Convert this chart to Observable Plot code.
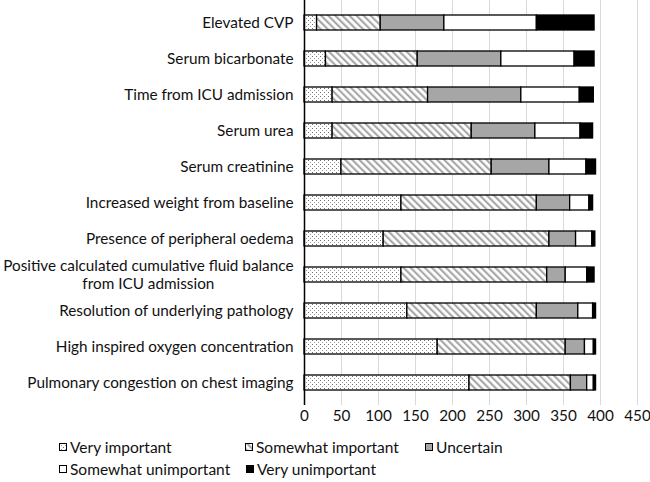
<!DOCTYPE html>
<html>
<head>
<meta charset="utf-8">
<script src="https://cdn.jsdelivr.net/npm/d3@7"></script>
<script src="https://cdn.jsdelivr.net/npm/@observablehq/plot@0.6"></script>
<style>
  html, body { margin: 0; padding: 0; background: #fff; }
  #wrap { width: 650px; font-family: Lato, sans-serif; color: #111; }
  #legend { position: relative; height: 50px; width: 650px; font-size: 15.5px; }
  .item { position: absolute; display: flex; align-items: center; white-space: nowrap; line-height: 18px; }
  .item svg { margin-right: 3px; }
</style>
</head>
<body>
<svg width="0" height="0" style="position:absolute">
  <defs>
    <pattern id="pDots" width="4" height="4" patternUnits="userSpaceOnUse">
      <rect width="4" height="4" fill="#fff"/>
      <rect x="0" y="0" width="1" height="1" fill="#6e6e6e"/>
      <rect x="2" y="2" width="1" height="1" fill="#9a9a9a"/>
    </pattern>
    <pattern id="pHatch" width="5" height="5" patternUnits="userSpaceOnUse" patternTransform="rotate(-45)">
      <rect width="5" height="5" fill="#fff"/>
      <rect x="0" y="0" width="2.2" height="5" fill="#a9a9a9"/>
    </pattern>
  </defs>
</svg>
<div id="wrap">
  <div id="chart"></div>
  <div id="legend"></div>
</div>
<script>
const categories = [
  "Elevated CVP",
  "Serum bicarbonate",
  "Time from ICU admission",
  "Serum urea",
  "Serum creatinine",
  "Increased weight from baseline",
  "Presence of peripheral oedema",
  "Positive calculated cumulative fluid balance from ICU admission",
  "Resolution of underlying pathology",
  "High inspired oxygen concentration",
  "Pulmonary congestion on chest imaging"
];
const levels = ["Very important", "Somewhat important", "Uncertain", "Somewhat unimportant", "Very unimportant"];
const veryImportant       = [17, 29, 38, 38, 50, 131, 107, 131, 139, 180, 223];
const somewhatImportant   = [86, 124, 129, 188, 203, 183, 224, 197, 175, 173, 137];
const uncertain           = [86, 113, 126, 86, 78, 45, 36, 25, 56, 26, 22];
const somewhatUnimportant = [125, 99, 79, 61, 50, 26, 22, 29, 20, 12, 9];
const veryUnimportant     = [78, 27, 19, 17, 13, 5, 4, 10, 4, 3, 3];
const xTicks = [0, 50, 100, 150, 200, 250, 300, 350, 400, 450];

const fills = ["url(#pDots)", "url(#pHatch)", "#a6a6a6", "#ffffff", "#000000"];
const series = [veryImportant, somewhatImportant, uncertain, somewhatUnimportant, veryUnimportant];

const data = [];
categories.forEach((c, i) => {
  levels.forEach((lv, j) => data.push({label: c, level: lv, value: series[j][i]}));
});

const wrapped = "Positive calculated cumulative fluid balance from ICU admission";
const line1 = "Positive calculated cumulative fluid balance";
const line2 = "from ICU admission";
const FONT_SIZE = 15.3;
const ctx = document.createElement("canvas").getContext("2d");
ctx.font = `${FONT_SIZE}px Lato`;
const w1 = ctx.measureText(line1).width;

const chart = Plot.plot({
  width: 650,
  height: 432,
  marginLeft: 304,
  marginRight: 13,
  marginTop: 0,
  marginBottom: 27,
  style: {fontFamily: "Lato, sans-serif", fontSize: FONT_SIZE + "px", color: "#111", background: "#fff"},
  x: {domain: [0, 450], axis: null, label: null},
  y: {domain: categories, paddingInner: 0.59, paddingOuter: 0.295, axis: null, label: null},
  color: {type: "ordinal", domain: levels, range: fills},
  marks: [
    Plot.gridX(xTicks.filter(d => d > 0), {stroke: "#d9d9d9", strokeOpacity: 1, strokeWidth: 1}),
    Plot.axisX(xTicks, {tickSize: 0, tickPadding: 5, tickFormat: d => d, fill: "#111", label: null}),
    Plot.barX(data, {x: "value", y: "label", fill: "level", order: levels, stroke: "#000", strokeWidth: 1.3}),
    Plot.ruleX([0], {stroke: "#000", strokeWidth: 1.5}),
    Plot.text(categories.filter(c => c !== wrapped), {y: d => d, frameAnchor: "left", dx: -11, textAnchor: "end", fill: "#111"}),
    Plot.text([wrapped], {y: d => d, frameAnchor: "left", dx: -11, dy: -9, text: () => line1, textAnchor: "end", fill: "#111"}),
    Plot.text([wrapped], {y: d => d, frameAnchor: "left", dx: -11 - w1 / 2, dy: 9.5, text: () => line2, textAnchor: "middle", fill: "#111"})
  ]
});
document.getElementById("chart").appendChild(chart);

// legend
const legendPos = [[59, 15], [245, 15], [425, 15], [59, 37], [246, 37]];
const legend = document.getElementById("legend");
levels.forEach((lv, i) => {
  const el = document.createElement("div");
  el.className = "item";
  el.style.left = legendPos[i][0] + "px";
  el.style.top = (legendPos[i][1] - 9) + "px";
  el.innerHTML = `<svg width="8" height="8"><rect x="0.5" y="0.5" width="7" height="7" fill="${fills[i]}" stroke="#000" stroke-width="1"/></svg><span>${lv}</span>`;
  legend.appendChild(el);
});
</script>
</body>
</html>
